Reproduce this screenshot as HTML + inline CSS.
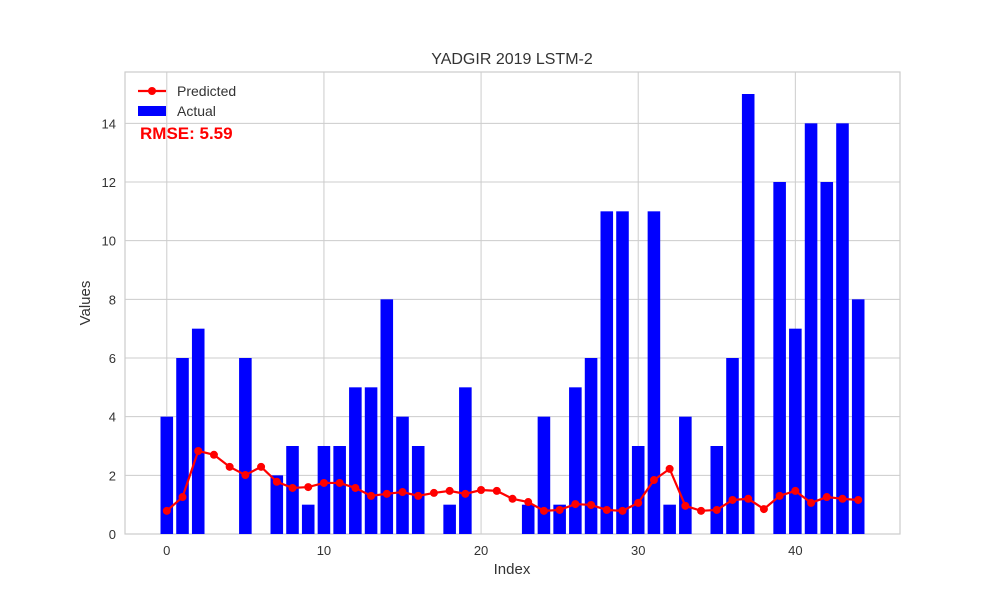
<!DOCTYPE html>
<html><head><meta charset="utf-8"><style>
body{margin:0;background:#fff;font-family:"Liberation Sans",sans-serif}
</style></head><body>
<svg id="chart" width="1000" height="600" xmlns="http://www.w3.org/2000/svg" font-family="Liberation Sans, sans-serif"></svg>
<script>
const indices=[...Array(45).keys()];
const actual=[4,6,7,0,0,6,0,2,3,1,3,3,5,5,8,4,3,0,1,5,0,0,0,1,4,1,5,6,11,11,3,11,1,4,0,3,6,15,0,12,7,14,12,14,8];
const predicted=[0.79,1.26,2.83,2.7,2.29,2.01,2.29,1.78,1.57,1.6,1.74,1.74,1.57,1.3,1.37,1.43,1.3,1.4,1.47,1.37,1.5,1.47,1.2,1.09,0.79,0.82,1.02,0.99,0.82,0.79,1.06,1.84,2.22,0.96,0.79,0.82,1.16,1.2,0.85,1.3,1.47,1.06,1.26,1.2,1.16];
const xTicks=[0,10,20,30,40];
const yTicks=[0,2,4,6,8,10,12,14];
const L=125,R=900,T=72,B=534,xmin=-2.66,xmax=46.66,ymin=0,ymax=15.75;
const sx=v=>L+(v-xmin)/(xmax-xmin)*(R-L);
const sy=v=>B-(v-ymin)/(ymax-ymin)*(B-T);
const svg=document.getElementById('chart');const NS='http://www.w3.org/2000/svg';
function mk(t,a,p){const e=document.createElementNS(NS,t);for(const k in a)e.setAttribute(k,a[k]);(p||svg).appendChild(e);return e;}
mk('rect',{x:L,y:T,width:R-L,height:B-T,fill:'#fff',stroke:'#ccc','stroke-width':1.2});
xTicks.forEach(v=>{mk('line',{x1:sx(v),x2:sx(v),y1:T,y2:B,stroke:'#ccc'});
const t=mk('text',{x:sx(v),y:B+21,'text-anchor':'middle','font-size':13,fill:'#333'});t.textContent=v;

});
yTicks.forEach(v=>{mk('line',{x1:L,x2:R,y1:sy(v),y2:sy(v),stroke:'#ccc'});
const t=mk('text',{x:L-9,y:sy(v)+5,'text-anchor':'end','font-size':13,fill:'#333'});t.textContent=v;

});
const bw=(sx(0.8)-sx(0));
indices.forEach((i)=>{if(actual[i]<=0)return;const r=mk('rect',{x:sx(i)-bw/2,y:sy(actual[i]),width:bw,height:sy(0)-sy(actual[i]),fill:'#0000ff'});

});
const pl=mk('polyline',{points:indices.map(i=>sx(i)+','+sy(predicted[i])).join(' '),fill:'none',stroke:'#ff0000','stroke-width':2.2});


indices.forEach(i=>{const c=mk('circle',{cx:sx(i),cy:sy(predicted[i]),r:4,fill:'#ff0000'});

});
const ti=mk('text',{x:512,y:64,'text-anchor':'middle','font-size':16,fill:'#333'});ti.textContent='YADGIR 2019 LSTM-2';

const xl=mk('text',{x:512,y:574,'text-anchor':'middle','font-size':15,fill:'#333'});xl.textContent='Index';

const yl=mk('text',{x:90,y:303,'text-anchor':'middle','font-size':15,fill:'#333',transform:'rotate(-90 90 303)'});yl.textContent='Values';

const lg=mk('g',{});
mk('line',{x1:138,x2:166,y1:91,y2:91,stroke:'#ff0000','stroke-width':2.2},lg);
mk('circle',{cx:152,cy:91,r:4,fill:'#ff0000'},lg);
const t1=mk('text',{x:177,y:96,'font-size':14,fill:'#333'},lg);t1.textContent='Predicted';
mk('rect',{x:138,y:106,width:28,height:10,fill:'#0000ff'},lg);
const t2=mk('text',{x:177,y:116,'font-size':14,fill:'#333'},lg);t2.textContent='Actual';
const rm=mk('text',{x:140,y:139,'font-size':17,'font-weight':'bold',fill:'#ff0000'});rm.textContent='RMSE: 5.59';

</script>
</body></html>
